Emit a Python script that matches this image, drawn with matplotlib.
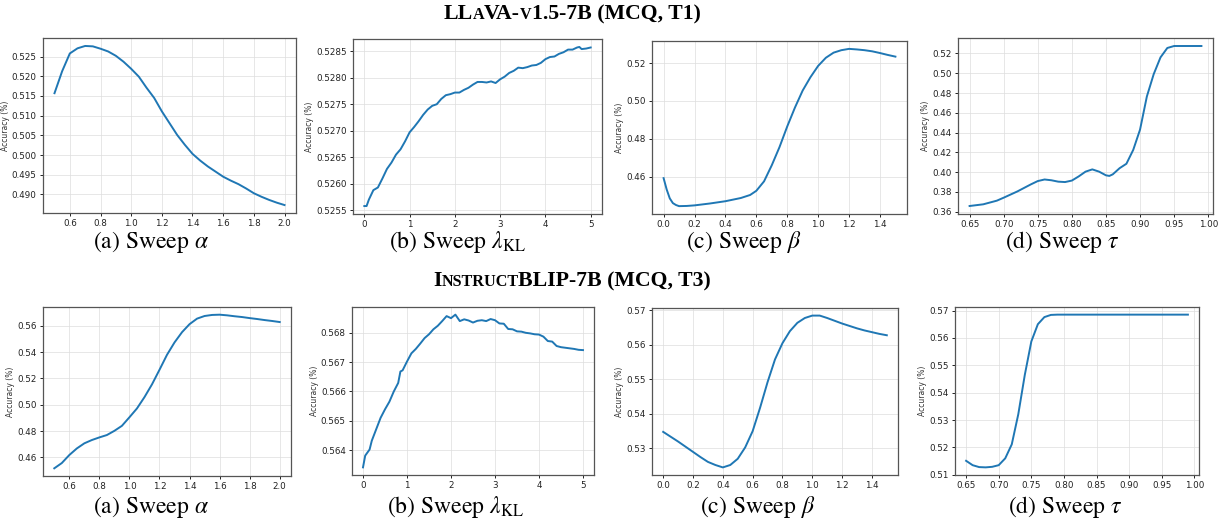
import matplotlib
matplotlib.use('Agg')
import matplotlib.pyplot as plt

plt.rcParams['mathtext.fontset'] = 'stix'

# ---- LLaVA-v1.5-7B (MCQ, T1) ----
alpha1 = [0.5, 0.55, 0.6, 0.65, 0.7, 0.75, 0.8, 0.85, 0.9, 0.95, 1.0, 1.05, 1.1, 1.15, 1.2, 1.25,
          1.3, 1.35, 1.4, 1.45, 1.5, 1.55, 1.6, 1.65, 1.7, 1.75, 1.8, 1.85, 1.9, 1.95, 2.0]
acc_alpha1 = [0.5157, 0.5213, 0.5258, 0.5271, 0.5277, 0.5276, 0.5270, 0.5263, 0.5252, 0.5237, 0.5219,
              0.5199, 0.5171, 0.5145, 0.5111, 0.5081, 0.5051, 0.5026, 0.5003, 0.4986, 0.4971, 0.4958,
              0.4945, 0.4935, 0.4926, 0.4915, 0.4903, 0.4894, 0.4886, 0.4879, 0.4873]

lam1 = [0.0, 0.05, 0.1, 0.2, 0.3, 0.4, 0.5, 0.6, 0.7, 0.8, 0.9, 1.0, 1.1, 1.2, 1.3, 1.4, 1.5, 1.6,
        1.7, 1.8, 1.9, 2.0, 2.1, 2.2, 2.3, 2.4, 2.5, 2.6, 2.7, 2.8, 2.9, 3.0, 3.1, 3.2, 3.3, 3.4,
        3.5, 3.6, 3.7, 3.8, 3.9, 4.0, 4.1, 4.2, 4.3, 4.4, 4.5, 4.6, 4.7, 4.75, 4.8, 4.9, 5.0]
acc_lam1 = [0.52558, 0.52558, 0.52570, 0.52588, 0.52593, 0.52610, 0.52628, 0.52640, 0.52655, 0.52665,
            0.52680, 0.52697, 0.52707, 0.52718, 0.52730, 0.52740, 0.52747, 0.52750, 0.52760, 0.52767,
            0.52769, 0.52772, 0.52772, 0.52777, 0.52781, 0.52787, 0.52792, 0.52792, 0.52791, 0.52793,
            0.52790, 0.52797, 0.52802, 0.52809, 0.52813, 0.52819, 0.52818, 0.52820, 0.52823, 0.52824,
            0.52828, 0.52835, 0.52839, 0.52840, 0.52845, 0.52848, 0.52853, 0.52853, 0.52857, 0.52858,
            0.52854, 0.52855, 0.52857]

beta1 = [0.0, 0.02, 0.04, 0.06, 0.08, 0.1, 0.15, 0.2, 0.3, 0.4, 0.5, 0.56, 0.6, 0.65, 0.7, 0.75,
         0.8, 0.85, 0.9, 0.95, 1.0, 1.05, 1.1, 1.15, 1.2, 1.25, 1.3, 1.35, 1.4, 1.45, 1.5]
acc_beta1 = [0.4592, 0.4532, 0.4485, 0.4460, 0.4450, 0.4444, 0.4445, 0.4448, 0.4458, 0.4470, 0.4487,
             0.4503, 0.4525, 0.4575, 0.4660, 0.4756, 0.4865, 0.4965, 0.5055, 0.5125, 0.5185, 0.5228,
             0.5255, 0.5268, 0.5275, 0.5272, 0.5268, 0.5262, 0.5253, 0.5243, 0.5234]

tau1 = [0.65, 0.67, 0.69, 0.70, 0.72, 0.74, 0.75, 0.76, 0.77, 0.78, 0.79, 0.80, 0.81, 0.82, 0.83,
        0.84, 0.85, 0.855, 0.86, 0.87, 0.88, 0.89, 0.90, 0.91, 0.92, 0.93, 0.94, 0.95, 0.96, 0.97,
        0.98, 0.99]
acc_tau1 = [0.3658, 0.3675, 0.3712, 0.3742, 0.3805, 0.3877, 0.3910, 0.3926, 0.3918, 0.3904, 0.3900,
            0.3915, 0.3957, 0.4005, 0.4028, 0.4005, 0.3968, 0.3962, 0.3978, 0.4040, 0.4085, 0.4225,
            0.4430, 0.4765, 0.4990, 0.5160, 0.5255, 0.5275, 0.5275, 0.5275, 0.5275, 0.5275]

# ---- InstructBLIP-7B (MCQ, T3) ----
alpha2 = alpha1
acc_alpha2 = [0.4517, 0.4557, 0.4618, 0.4668, 0.4707, 0.4732, 0.4752, 0.4770, 0.4802, 0.4840, 0.4905,
              0.4972, 0.5058, 0.5155, 0.5266, 0.5380, 0.5474, 0.5552, 0.5613, 0.5655, 0.5675, 0.5683,
              0.5685, 0.5680, 0.5673, 0.5667, 0.5659, 0.5652, 0.5644, 0.5637, 0.5629]

lam2 = [0.0, 0.05, 0.15, 0.2, 0.3, 0.4, 0.5, 0.6, 0.7, 0.8, 0.85, 0.9, 1.0, 1.1, 1.2, 1.3, 1.4, 1.5,
        1.6, 1.7, 1.8, 1.9, 2.0, 2.1, 2.2, 2.3, 2.4, 2.5, 2.6, 2.7, 2.8, 2.9, 3.0, 3.1, 3.2, 3.3,
        3.4, 3.5, 3.6, 3.7, 3.8, 3.9, 4.0, 4.1, 4.2, 4.3, 4.4, 4.5, 4.6, 4.7, 4.8, 4.9, 5.0]
acc_lam2 = [0.56341, 0.56381, 0.56402, 0.56432, 0.56471, 0.56510, 0.56539, 0.56565, 0.56600, 0.56629,
            0.56668, 0.56672, 0.56702, 0.56730, 0.56745, 0.56763, 0.56782, 0.56795, 0.56812, 0.56824,
            0.56840, 0.56857, 0.56850, 0.56862, 0.56840, 0.56846, 0.56842, 0.56835, 0.56841, 0.56843,
            0.56840, 0.56847, 0.56843, 0.56832, 0.56831, 0.56813, 0.56812, 0.56805, 0.56804, 0.56800,
            0.56798, 0.56795, 0.56794, 0.56787, 0.56772, 0.56770, 0.56755, 0.56751, 0.56749, 0.56747,
            0.56745, 0.56742, 0.56741]

beta2 = [0.0, 0.05, 0.1, 0.15, 0.2, 0.25, 0.3, 0.35, 0.4, 0.45, 0.5, 0.55, 0.6, 0.65, 0.7, 0.75,
         0.8, 0.85, 0.9, 0.95, 1.0, 1.05, 1.1, 1.15, 1.2, 1.25, 1.3, 1.35, 1.4, 1.45, 1.5]
acc_beta2 = [0.5348, 0.5334, 0.5320, 0.5305, 0.5290, 0.5275, 0.5261, 0.5252, 0.5245, 0.5252, 0.5270,
             0.5303, 0.5350, 0.5418, 0.5492, 0.5558, 0.5605, 0.5640, 0.5664, 0.5678, 0.5685, 0.5685,
             0.5678, 0.5670, 0.5662, 0.5655, 0.5648, 0.5642, 0.5637, 0.5632, 0.5628]

tau2 = [0.65, 0.66, 0.67, 0.68, 0.69, 0.70, 0.71, 0.72, 0.73, 0.74, 0.75, 0.76, 0.77, 0.78, 0.79,
        0.80, 0.85, 0.90, 0.95, 0.99]
acc_tau2 = [0.5151, 0.5135, 0.5128, 0.5127, 0.5129, 0.5135, 0.5160, 0.5211, 0.5321, 0.5465, 0.5587,
            0.5650, 0.5676, 0.5684, 0.5685, 0.5685, 0.5685, 0.5685, 0.5685, 0.5685]

captions = [r'(a) Sweep $\alpha$', r'(b) Sweep $\lambda_{\mathrm{KL}}$',
            r'(c) Sweep $\beta$', r'(d) Sweep $\tau$']

W, H = 1220, 524
fig = plt.figure(figsize=(12.2, 5.24), dpi=100)


def box(l, r, t, b):
    return [l / W, 1 - b / H, (r - l) / W, (b - t) / H]


def panel(rect, x, y, xticks):
    ax = fig.add_axes(box(*rect))
    ax.plot(x, y, color='#1f77b4', linewidth=1.4)
    ax.set_xticks(xticks)
    ax.grid(True, color='#dddddd', linewidth=0.7, alpha=0.7)
    ax.set_ylabel('Accuracy (%)', fontsize=5.5, labelpad=1.5, color='#333333')
    ax.tick_params(labelsize=6.3, length=2.5, width=0.6, pad=2, labelcolor='#222222')
    for s in ax.spines.values():
        s.set_color('#555555')
        s.set_linewidth(0.9)
    return ax


a_ticks = [0.6, 0.8, 1.0, 1.2, 1.4, 1.6, 1.8, 2.0]
l_ticks = [0, 1, 2, 3, 4, 5]
b_ticks = [0.0, 0.2, 0.4, 0.6, 0.8, 1.0, 1.2, 1.4]
t_ticks = [0.65, 0.70, 0.75, 0.80, 0.85, 0.90, 0.95, 1.00]

ax = panel((43, 296, 38, 213), alpha1, acc_alpha1, a_ticks)
ax.yaxis.set_major_formatter(matplotlib.ticker.FormatStrFormatter('%.3f'))
ax = panel((353, 602, 39, 214), lam1, acc_lam1, l_ticks)
ax.yaxis.set_major_formatter(matplotlib.ticker.FormatStrFormatter('%.4f'))
panel((652, 907, 41, 214), beta1, acc_beta1, b_ticks)
panel((958, 1213, 38, 214), tau1, acc_tau1, t_ticks)

panel((43, 291, 307, 476), alpha2, acc_alpha2, a_ticks)
ax = panel((352, 594, 307, 475), lam2, acc_lam2, l_ticks)
ax.yaxis.set_major_formatter(matplotlib.ticker.FormatStrFormatter('%.3f'))
panel((652, 898, 308, 475), beta2, acc_beta2, b_ticks)
panel((955, 1199, 307, 475), tau2, acc_tau2, t_ticks)

# captions under each panel
cap_x1 = [151, 457, 744, 1062]
cap_x2 = [151, 455, 758, 1065]
for i in range(4):
    fig.text(cap_x1[i] / W, 1 - 242 / H, captions[i], ha='center', va='center',
             fontsize=17, family='STIXGeneral')
    fig.text(cap_x2[i] / W, 1 - 507 / H, captions[i], ha='center', va='center',
             fontsize=17, family='STIXGeneral')


# row titles with small caps, built piece by piece
def sc_title(parts, y, size=15.7):
    fig.canvas.draw()
    r = fig.canvas.get_renderer()
    texts = []
    total = 0
    for s, small in parts:
        t = fig.text(0, 1 - y / H, s, fontsize=size * 0.74 if small else size,
                     fontweight='bold', family='Liberation Serif', va='baseline')
        w = t.get_window_extent(r).width
        texts.append((t, w))
        total += w
    x = 572 - total / 2
    for t, w in texts:
        t.set_x(x / W)
        x += w


sc_title([('LL', False), ('A', True), ('VA-', False), ('V', True), ('1.5-7B (MCQ, T1)', False)], 19)
sc_title([('I', False), ('NSTRUCT', True), ('BLIP-7B (MCQ, T3)', False)], 286)

fig.savefig('out.png', dpi=100)
